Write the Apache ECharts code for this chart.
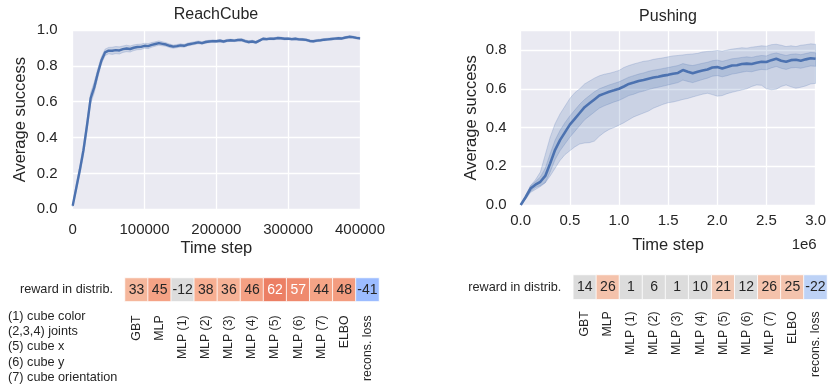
<!DOCTYPE html>
<html>
<head>
<meta charset="utf-8">
<script src="https://cdn.jsdelivr.net/npm/echarts@6/dist/echarts.min.js"></script>
<style>
  html, body { margin: 0; padding: 0; background: #ffffff; }
  #chart { width: 829px; height: 384px; }
</style>
</head>
<body>
<div id="chart"></div>
<script>
// ---------------- ReachCube learning curve (time step in thousands) ----------------
const reachStepK = [0,5,10,15,20,25,30,35,40,45,50,55,60,65,70,75,80,85,90,95,
  100,105,110,115,120,125,130,135,140,145,150,155,160,165,170,175,180,185,190,195,
  200,205,210,215,220,225,230,235,240,245,250,255,260,265,270,275,280,285,290,295,
  300,305,310,315,320,325,330,335,340,345,350,355,360,365,370,375,380,385,390,395,400];
const reachMean = [0.02,0.12,0.22,0.33,0.47,0.62,0.68,0.76,0.83,0.875,0.885,0.884,0.888,0.886,0.893,0.897,0.894,0.901,0.905,0.906,
  0.912,0.910,0.917,0.922,0.927,0.923,0.919,0.912,0.907,0.910,0.914,0.912,0.919,0.923,0.927,0.931,0.927,0.933,0.936,0.938,
  0.937,0.940,0.936,0.941,0.943,0.941,0.944,0.945,0.938,0.933,0.936,0.931,0.941,0.951,0.949,0.952,0.951,0.955,0.954,0.951,
  0.952,0.949,0.951,0.948,0.947,0.945,0.939,0.937,0.941,0.943,0.946,0.948,0.950,0.952,0.954,0.953,0.958,0.962,0.960,0.956,0.953];
const reachSpread = [0.005,0.02,0.025,0.03,0.03,0.03,0.03,0.025,0.02,0.018,0.018,0.02,0.02,0.02,0.018,0.018,0.017,0.016,0.015,0.015,
  0.014,0.014,0.013,0.012,0.012,0.011,0.010,0.010,0.009,0.009,0.009,0.008,0.008,0.008,0.008,0.008,0.007,0.007,0.007,0.007,
  0.007,0.007,0.007,0.007,0.006,0.006,0.006,0.007,0.007,0.007,0.007,0.007,0.006,0.006,0.006,0.006,0.006,0.006,0.006,0.006,
  0.006,0.006,0.006,0.006,0.006,0.006,0.006,0.006,0.006,0.006,0.006,0.006,0.006,0.006,0.006,0.006,0.006,0.006,0.006,0.006,0.006];

// ---------------- Pushing learning curve (time step in millions) ----------------
const pushStepM = [0,0.05,0.1,0.15,0.2,0.25,0.3,0.35,0.4,0.45,0.5,0.55,0.6,0.65,0.7,0.75,0.8,0.85,0.9,0.95,
  1.0,1.05,1.1,1.15,1.2,1.25,1.3,1.35,1.4,1.45,1.5,1.55,1.6,1.65,1.7,1.75,1.8,1.85,1.9,1.95,
  2.0,2.05,2.1,2.15,2.2,2.25,2.3,2.35,2.4,2.45,2.5,2.55,2.6,2.65,2.7,2.75,2.8,2.85,2.9,2.95,3.0];
const pushMean = [0,0.04,0.085,0.105,0.12,0.15,0.215,0.285,0.335,0.375,0.415,0.445,0.475,0.505,0.525,0.545,0.565,0.575,0.585,0.592,
  0.600,0.612,0.625,0.632,0.640,0.645,0.652,0.658,0.662,0.668,0.672,0.678,0.682,0.697,0.688,0.680,0.688,0.695,0.700,0.710,
  0.712,0.705,0.712,0.720,0.722,0.728,0.730,0.728,0.735,0.740,0.738,0.748,0.755,0.745,0.740,0.748,0.750,0.745,0.752,0.758,0.755];
const pushInnerHi = [0,0.045,0.10,0.12,0.145,0.19,0.265,0.335,0.385,0.425,0.46,0.49,0.52,0.545,0.565,0.585,0.60,0.61,0.62,0.628,
  0.636,0.648,0.66,0.668,0.676,0.682,0.69,0.696,0.70,0.705,0.71,0.715,0.72,0.73,0.724,0.72,0.726,0.732,0.737,0.745,
  0.748,0.742,0.748,0.755,0.758,0.762,0.765,0.762,0.768,0.772,0.77,0.78,0.785,0.778,0.772,0.778,0.78,0.776,0.782,0.788,0.786];
const pushInnerLo = [0,0.035,0.07,0.09,0.10,0.115,0.17,0.235,0.28,0.315,0.35,0.38,0.41,0.44,0.46,0.48,0.50,0.512,0.522,0.532,
  0.54,0.552,0.565,0.572,0.582,0.588,0.596,0.603,0.608,0.614,0.62,0.626,0.632,0.645,0.638,0.632,0.64,0.648,0.655,0.665,
  0.668,0.662,0.668,0.676,0.68,0.686,0.69,0.688,0.695,0.70,0.698,0.708,0.715,0.706,0.70,0.708,0.71,0.706,0.712,0.718,0.716];
const pushOuterHi = [0,0.05,0.10,0.13,0.17,0.26,0.35,0.42,0.47,0.51,0.55,0.58,0.60,0.625,0.64,0.655,0.667,0.675,0.68,0.687,
  0.695,0.71,0.72,0.728,0.735,0.742,0.745,0.752,0.756,0.76,0.765,0.77,0.772,0.775,0.778,0.78,0.783,0.79,0.793,0.795,
  0.798,0.795,0.80,0.805,0.808,0.812,0.81,0.815,0.818,0.822,0.82,0.828,0.83,0.825,0.818,0.822,0.818,0.825,0.828,0.832,0.83];
const pushOuterLo = [0,0.03,0.065,0.08,0.095,0.115,0.15,0.19,0.23,0.26,0.28,0.30,0.315,0.32,0.322,0.33,0.355,0.375,0.39,0.40,
  0.412,0.425,0.44,0.455,0.465,0.475,0.485,0.50,0.51,0.52,0.528,0.532,0.538,0.545,0.55,0.558,0.565,0.572,0.577,0.57,
  0.562,0.565,0.575,0.582,0.588,0.594,0.60,0.612,0.62,0.618,0.60,0.595,0.598,0.612,0.62,0.61,0.603,0.608,0.615,0.625,0.628];

// ---------------- Reward correlation tables ----------------
const methodNames = ['GBT','MLP','MLP (1)','MLP (2)','MLP (3)','MLP (4)','MLP (5)','MLP (6)','MLP (7)','ELBO','recons. loss'];
const rowNames = ['reward in distrib.'];
const reachReward = [33,45,-12,38,36,46,62,57,44,48,-41];
const pushReward = [14,26,1,6,1,10,21,12,26,25,-22];
const featureNotes = ['(1) cube color','(2,3,4) joints','(5) cube x','(6) cube y','(7) cube orientation'];

// ---------------- styling ----------------
const FONT = '"Liberation Sans", Arial, sans-serif';
const INK = '#262626';
const BLUE = '#4C72B0';
const BAND = 'rgba(76,114,176,0.2)';
const BAND_EDGE = 'rgba(76,114,176,0.22)';
const PANEL = '#EAEAF2';
const NEUTRAL = '#DCDCDC';
const MASK_BELOW = 20;   // cells with |value| below this stay neutral grey
// matplotlib "coolwarm" samples, value range -100..100
const COOLWARM = ['#3b4cc0','#5977e3','#7b9ff9','#9ebeff','#c0d4f5','#dddcdc','#f2cbb7','#f7ac8e','#ee8468','#d65244','#b40426'];

function hexToRgb(h) {
  return [parseInt(h.slice(1,3),16), parseInt(h.slice(3,5),16), parseInt(h.slice(5,7),16)];
}
function coolwarm(v) {
  let t = (v + 100) / 200;
  t = Math.max(0, Math.min(1, t));
  const pos = t * (COOLWARM.length - 1);
  const i = Math.min(Math.floor(pos), COOLWARM.length - 2);
  const f = pos - i;
  const a = hexToRgb(COOLWARM[i]), b = hexToRgb(COOLWARM[i + 1]);
  return a.map((c, k) => Math.round(c + (b[k] - c) * f));
}
function luminance(rgb) {
  const lin = rgb.map(c => { c /= 255; return c <= 0.03928 ? c / 12.92 : Math.pow((c + 0.055) / 1.055, 2.4); });
  return 0.2126 * lin[0] + 0.7152 * lin[1] + 0.0722 * lin[2];
}
function cellItems(values) {
  return values.map((v, i) => {
    const rgb = Math.abs(v) < MASK_BELOW ? hexToRgb(NEUTRAL) : coolwarm(v);
    const fill = 'rgb(' + rgb.join(',') + ')';
    return {
      value: [i, 0, v],
      itemStyle: { color: fill },
      label: { color: luminance(rgb) > 0.408 ? INK : '#ffffff' }
    };
  });
}

// shaded band between lo and hi, drawn as one polygon in data coordinates
function bandSeries(xs, lo, hi, axisIdx, fill, edge) {
  return {
    type: 'custom',
    xAxisIndex: axisIdx, yAxisIndex: axisIdx,
    silent: true,
    clip: true,
    data: xs.map((x, i) => [x, lo[i], hi[i]]),
    renderItem: function (params, api) {
      if (params.dataIndex !== 0) return null;
      const pts = [];
      for (let i = 0; i < xs.length; i++) pts.push(api.coord([xs[i], hi[i]]));
      for (let i = xs.length - 1; i >= 0; i--) pts.push(api.coord([xs[i], lo[i]]));
      return {
        type: 'polygon',
        shape: { points: pts },
        style: { fill: fill, stroke: edge, lineWidth: 1 }
      };
    }
  };
}

const reachX = reachStepK.map(k => k * 1000);
const reachLo = reachMean.map((m, i) => m - reachSpread[i]);
const reachHi = reachMean.map((m, i) => m + reachSpread[i]);

function valueAxisBase() {
  return {
    type: 'value',
    axisLine: { show: false },
    axisTick: { show: false },
    splitLine: { show: true, lineStyle: { color: '#ffffff', width: 1.3 } },
    axisLabel: { color: INK, fontFamily: FONT, fontSize: 15 }
  };
}

const chart = echarts.init(document.getElementById('chart'), null, { renderer: 'canvas' });

const option = {
  backgroundColor: '#ffffff',
  animation: false,
  textStyle: { fontFamily: FONT },
  grid: [
    { left: 72.7, top: 30, width: 287.3, height: 179.3, show: true, backgroundColor: PANEL, borderWidth: 0 },
    { left: 520.7, top: 30.7, width: 296, height: 174.3, show: true, backgroundColor: PANEL, borderWidth: 0 },
    { left: 125, top: 278, width: 254, height: 23.7 },
    { left: 573.3, top: 275, width: 253.7, height: 24.3 }
  ],
  xAxis: [
    Object.assign(valueAxisBase(), {
      gridIndex: 0, min: 0, max: 400000, interval: 100000,
      name: 'Time step', nameLocation: 'middle', nameGap: 31,
      nameTextStyle: { color: INK, fontFamily: FONT, fontSize: 16.5 },
      axisLabel: { color: INK, fontFamily: FONT, fontSize: 15, margin: 13, formatter: v => String(v) }
    }),
    Object.assign(valueAxisBase(), {
      gridIndex: 1, min: 0, max: 3, interval: 0.5,
      name: 'Time step', nameLocation: 'middle', nameGap: 32,
      nameTextStyle: { color: INK, fontFamily: FONT, fontSize: 16.5 },
      axisLabel: { color: INK, fontFamily: FONT, fontSize: 15, margin: 8, formatter: v => v.toFixed(1) }
    }),
    {
      type: 'category', gridIndex: 2, data: methodNames,
      axisLine: { show: false }, axisTick: { show: false }, splitLine: { show: false },
      axisLabel: { rotate: 90, interval: 0, margin: 14, color: INK, fontFamily: FONT, fontSize: 12.3 }
    },
    {
      type: 'category', gridIndex: 3, data: methodNames,
      axisLine: { show: false }, axisTick: { show: false }, splitLine: { show: false },
      axisLabel: { rotate: 90, interval: 0, margin: 12, color: INK, fontFamily: FONT, fontSize: 12.3 }
    }
  ],
  yAxis: [
    Object.assign(valueAxisBase(), {
      gridIndex: 0, min: 0, max: 1, interval: 0.2,
      name: 'Average success', nameLocation: 'middle', nameGap: 44,
      nameTextStyle: { color: INK, fontFamily: FONT, fontSize: 16.5 },
      axisLabel: { color: INK, fontFamily: FONT, fontSize: 15, margin: 15, formatter: v => v.toFixed(1) }
    }),
    Object.assign(valueAxisBase(), {
      gridIndex: 1, min: 0, max: 0.9, interval: 0.2,
      name: 'Average success', nameLocation: 'middle', nameGap: 41,
      nameTextStyle: { color: INK, fontFamily: FONT, fontSize: 16.5 },
      axisLabel: { color: INK, fontFamily: FONT, fontSize: 15, margin: 14, showMaxLabel: false,
        formatter: v => (Math.abs(Math.round(v * 10) % 2) === 0 ? v.toFixed(1) : '') }
    }),
    {
      type: 'category', gridIndex: 2, data: rowNames,
      axisLine: { show: false }, axisTick: { show: false }, splitLine: { show: false },
      axisLabel: { margin: 12, color: INK, fontFamily: FONT, fontSize: 12.7 }
    },
    {
      type: 'category', gridIndex: 3, data: rowNames,
      axisLine: { show: false }, axisTick: { show: false }, splitLine: { show: false },
      axisLabel: { margin: 12, color: INK, fontFamily: FONT, fontSize: 12.7 }
    }
  ],
  series: [
    // ReachCube
    bandSeries(reachX, reachLo, reachHi, 0, BAND, BAND_EDGE),
    {
      type: 'line', xAxisIndex: 0, yAxisIndex: 0, showSymbol: false, silent: true,
      data: reachX.map((x, i) => [x, reachMean[i]]),
      lineStyle: { color: BLUE, width: 2.4 }
    },
    // Pushing
    bandSeries(pushStepM, pushOuterLo, pushOuterHi, 1, BAND, BAND_EDGE),
    bandSeries(pushStepM, pushInnerLo, pushInnerHi, 1, BAND, BAND_EDGE),
    {
      type: 'line', xAxisIndex: 1, yAxisIndex: 1, showSymbol: false, silent: true,
      data: pushStepM.map((x, i) => [x, pushMean[i]]),
      lineStyle: { color: BLUE, width: 2.6 }
    },
    // reward tables
    {
      type: 'heatmap', xAxisIndex: 2, yAxisIndex: 2, silent: true,
      data: cellItems(reachReward),
      itemStyle: { borderColor: '#ffffff', borderWidth: 0.8 },
      label: { show: true, fontFamily: FONT, fontSize: 14, formatter: p => String(p.value[2]) },
      emphasis: { disabled: true }
    },
    {
      type: 'heatmap', xAxisIndex: 3, yAxisIndex: 3, silent: true,
      data: cellItems(pushReward),
      itemStyle: { borderColor: '#ffffff', borderWidth: 0.8 },
      label: { show: true, fontFamily: FONT, fontSize: 14, formatter: p => String(p.value[2]) },
      emphasis: { disabled: true }
    }
  ],
  graphic: [
    { type: 'text', x: 216, y: 15, style: { text: 'ReachCube', fill: INK, font: '16px ' + FONT, textAlign: 'center', textVerticalAlign: 'middle' } },
    { type: 'text', x: 668, y: 16.5, style: { text: 'Pushing', fill: INK, font: '16px ' + FONT, textAlign: 'center', textVerticalAlign: 'middle' } },
    { type: 'text', x: 816.7, y: 245, style: { text: '1e6', fill: INK, font: '15px ' + FONT, textAlign: 'right', textVerticalAlign: 'middle' } }
  ].concat(featureNotes.map((t, i) => ({
    type: 'text', x: 8, y: 316.7 + i * 15.1,
    style: { text: t, fill: INK, font: '12.7px ' + FONT, textAlign: 'left', textVerticalAlign: 'middle' }
  })))
};

chart.setOption(option);
</script>
</body>
</html>
